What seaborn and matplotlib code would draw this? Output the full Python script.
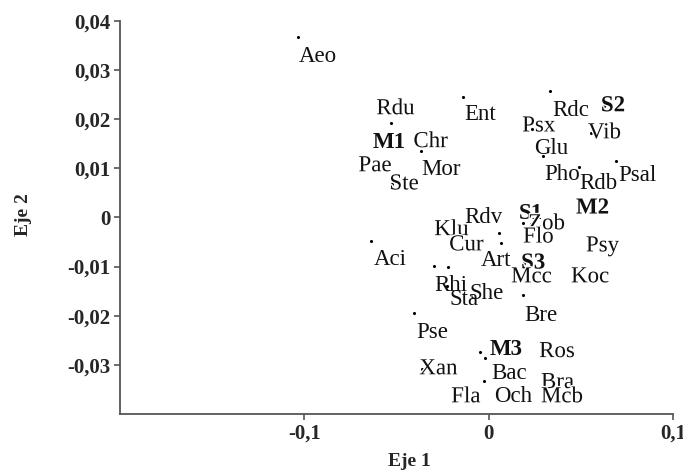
"""
plot.py
Correspondence analysis biplot (Eje 1 vs Eje 2) with site and taxon labels.
Output: out.png
"""

import matplotlib

matplotlib.use("Agg")
import matplotlib.patheffects as pe
import matplotlib.pyplot as plt
import seaborn as sns

# Point labels and their coordinates on the two axes
NAMES = [
    "Aeo", "Rdc", "Ent", "M1", "Glu", "Mor", "Pho", "Psal", "Rdb", "S1",
    "Rdv", "Art", "Aci", "Rhi", "She", "Sta", "Pse", "Bre", "M3", "Bac",
    "Och", "Rdu", "S2", "Psx", "Vib", "Chr", "Pae", "Ste", "Zob", "M2",
    "Klu", "Cur", "Flo", "Psy", "S3", "Mcc", "Koc", "Ros", "Xan", "Bra",
    "Fla", "Mcb",
]
EJE1 = [
    -0.1037, 0.0333, -0.0138, -0.0528, 0.0235, -0.0365, 0.0295, 0.0690, 0.0490, 0.0187,
    0.0057, 0.0068, -0.0641, -0.0295, -0.0219, -0.0225, -0.0403, 0.0187, -0.0046, -0.0019,
    -0.0024, -0.0593, 0.0625, 0.0198, 0.0555, -0.0392, -0.0690, -0.0522, 0.0230, 0.0490,
    -0.0279, -0.0198, 0.0203, 0.0544, 0.0192, 0.0138, 0.0463, 0.0290, -0.0360, 0.0300,
    -0.0187, 0.0300,
]
EJE2 = [
    0.0367, 0.0257, 0.0245, 0.0192, 0.0180, 0.0135, 0.0125, 0.0115, 0.0103, -0.0011,
    -0.0032, -0.0052, -0.0048, -0.0099, -0.0101, -0.0139, -0.0194, -0.0158, -0.0273, -0.0286,
    -0.0332, 0.0221, 0.0227, 0.0186, 0.0172, 0.0154, 0.0105, 0.0068, -0.0013, 0.0019,
    -0.0025, -0.0056, -0.0040, -0.0058, -0.0093, -0.0121, -0.0121, -0.0273, -0.0308, -0.0336,
    -0.0365, -0.0365,
]
BOLD = {"M1", "M2", "M3", "S1", "S2", "S3"}

XTICKS = [-0.1, 0, 0.1]
XTICK_LABELS = ["-0,1", "0", "0,1"]
YTICKS = [-0.03, -0.02, -0.01, 0, 0.01, 0.02, 0.03, 0.04]
YTICK_LABELS = ["-0,03", "-0,02", "-0,01", "0", "0,01", "0,02", "0,03", "0,04"]

# label placement relative to its point, in pixels (right, down) to the label's left/middle
LABEL_OFFSETS = {
    "Aeo": (1, 18), "Rdc": (2, 17), "Ent": (1, 16), "M1": (-19, 18), "Glu": (2, 18),
    "Mor": (0, 17), "Pho": (1, 17), "Psal": (2, 13), "Rdb": (0, 15), "S1": (-4, -11),
    "Rdv": (-35, -18), "Art": (-20, 16), "Aci": (3, 17), "Rhi": (0, 17), "She": (21, 24),
    "Sta": (2, 12), "Pse": (2, 18), "Bre": (1, 18), "M3": (9, -4), "Bac": (6, 14),
    "Och": (10, 14),
}
# points whose marker sits under the first letter of their own label
DEFAULT_OFFSET = (-3, -2)


def main():
    sns.set_style("ticks")
    plt.rcParams["font.family"] = ["Liberation Serif", "DejaVu Serif"]

    fig = plt.figure(figsize=(6.83, 4.71), dpi=100)
    ax = fig.add_axes([0.1757, 0.121, 0.8097, 0.835])

    sns.scatterplot(x=EJE1, y=EJE2, color="black", s=5, linewidth=0, ax=ax, legend=False, zorder=2)

    halo = [pe.withStroke(linewidth=2.0, foreground="white")]
    for name, x, y in zip(NAMES, EJE1, EJE2):
        dx, dy = LABEL_OFFSETS.get(name, DEFAULT_OFFSET)
        ax.annotate(
            name, (x, y), xytext=(dx, -(dy + 7.5)), textcoords="offset pixels",
            ha="left", va="baseline", fontsize=16.5, color="#111111",
            fontweight="bold" if name in BOLD else "normal",
            path_effects=None if name in LABEL_OFFSETS else halo, zorder=3,
        )

    ax.set_xlim(-0.2, 0.1)
    ax.set_ylim(-0.04, 0.04)
    ax.set_xticks(XTICKS)
    ax.set_xticklabels(XTICK_LABELS, fontsize=15, fontweight="bold")
    ax.set_yticks(YTICKS)
    ax.set_yticklabels(YTICK_LABELS, fontsize=15, fontweight="bold")
    ax.tick_params(length=4, width=1.2, color="#555555", pad=3)

    ax.set_xlabel("Eje 1", fontsize=14, fontweight="bold")
    ax.set_ylabel("Eje 2", fontsize=14, fontweight="bold")
    ax.xaxis.label.set_va("center")
    ax.yaxis.label.set_va("center")
    ax.xaxis.set_label_coords(0.5226, -0.1195)
    ax.yaxis.set_label_coords(-0.1754, 0.506)

    sns.despine(ax=ax)
    for side in ["left", "bottom"]:
        ax.spines[side].set_color("#555555")
        ax.spines[side].set_linewidth(1.3)

    fig.savefig("out.png", dpi=100)
    plt.close(fig)


if __name__ == "__main__":
    main()
